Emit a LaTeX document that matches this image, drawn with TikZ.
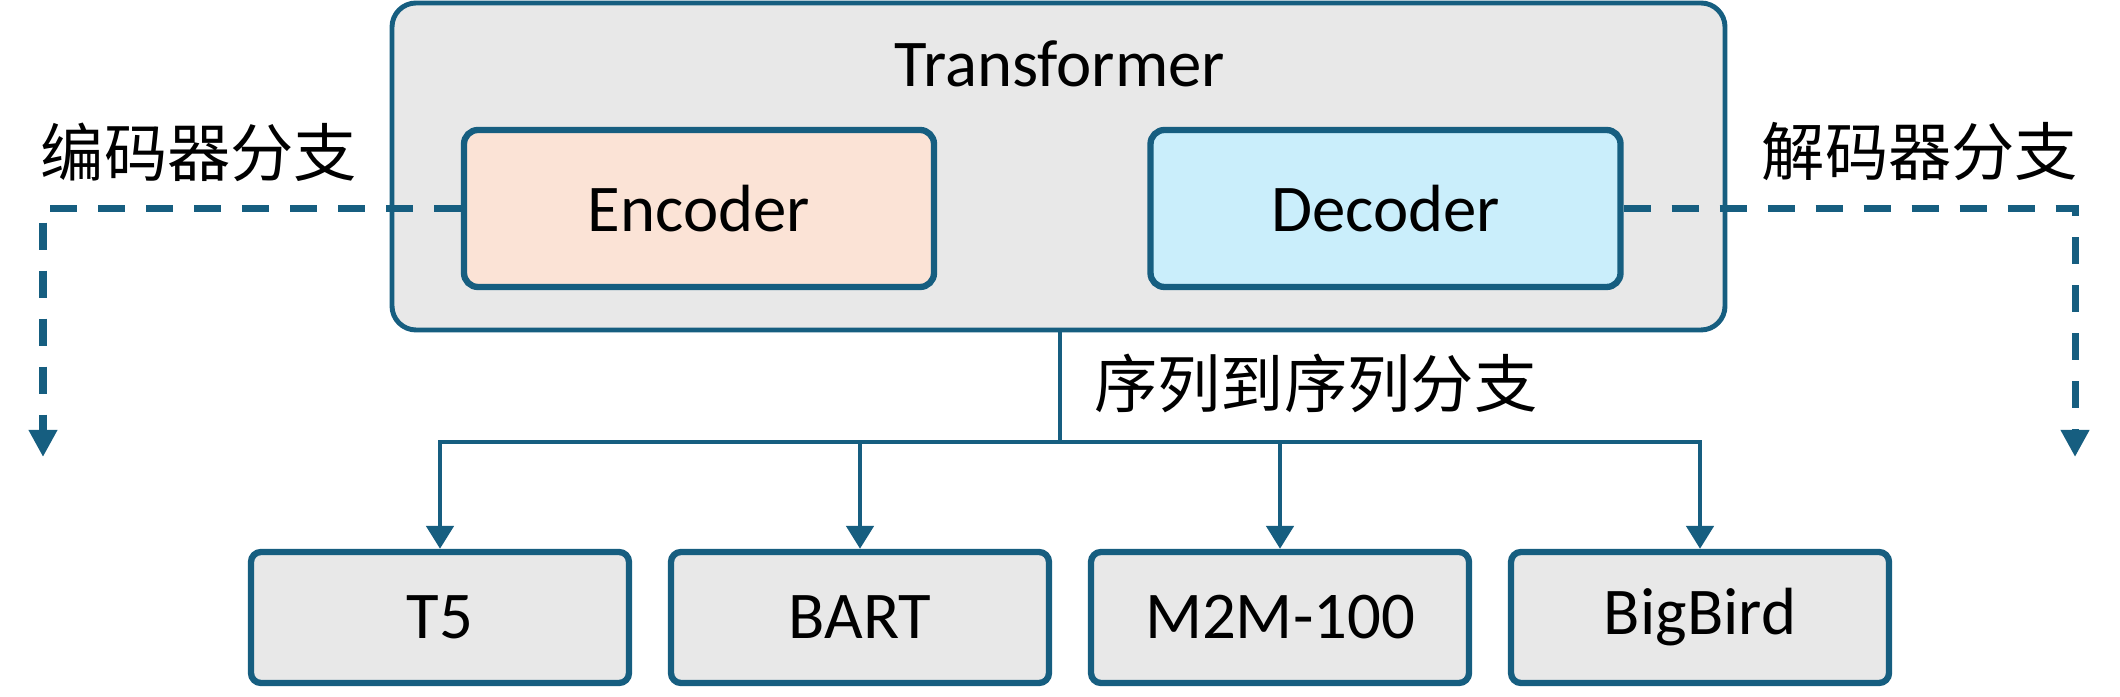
\documentclass[tikz,border=0pt]{standalone}
\usepackage{fontspec}
\setmainfont{Carlito}
\newfontfamily\cjk{Noto Sans CJK SC}
\usetikzlibrary{arrows.meta}
\definecolor{edge}{RGB}{22,94,128}
\definecolor{boxgray}{RGB}{232,232,232}
\definecolor{encfill}{RGB}{251,227,214}
\definecolor{decfill}{RGB}{202,238,251}
\tikzset{
  outer/.style  = { draw=edge, line width=1.4pt, fill=boxgray, rounded corners=0.24cm,
                    minimum width=13.33cm, minimum height=3.27cm },
  part/.style   = { draw=edge, line width=1.8pt, rounded corners=0.14cm,
                    minimum width=4.7cm, minimum height=1.57cm, font=\fontsize{19}{22}\selectfont },
  model/.style  = { draw=edge, line width=1.8pt, fill=boxgray, rounded corners=0.1cm,
                    minimum width=3.78cm, minimum height=1.31cm, font=\fontsize{19}{22}\selectfont },
  branch/.style = { draw=edge, line width=2pt, dash pattern=on 0.27cm off 0.21cm,
                    -{Triangle[width=0.27cm,length=0.27cm]} },
  seq/.style    = { draw=edge, line width=1.4pt },
  tag/.style    = { font=\cjk\fontsize{18}{22}\selectfont }
}

\begin{document}
\begin{tikzpicture}
\useasboundingbox (0,0) rectangle (21.2,6.96);
% transformer with its two parts
\node[outer] (transformer) at (10.585,5.295) {};
\node[font=\fontsize{19}{22}\selectfont] (title) at (10.6,6.32) {Transformer};
\node[part, fill=encfill] (encoder) at (6.99,4.875) {Encoder};
\node[part, fill=decfill] (decoder) at (13.855,4.875) {Decoder};
% branch labels
\node[tag] (enclabel) at (1.99,5.44) {编码器分支};
\node[tag] (declabel) at (19.2,5.44) {解码器分支};
\node[tag, anchor=west] (seqlabel) at (10.82,3.13) {序列到序列分支};
% dashed branches
\coordinate (encend) at (0.43,2.39);
\coordinate (decend) at (20.75,2.39);
\draw[branch] (encoder.west) -| (encend);
\draw[branch] (decoder.east) -| (decend);
% seq2seq models
\coordinate (split) at (10.6,2.54);
\draw[seq] (transformer.south -| split) -- (split);
\foreach \name/\txt/\x in {t5/T5/4.4, bart/BART/8.6, m2m/M2M-100/12.8, bigbird/BigBird/17.0} {
  \node[model] (\name) at (\x,0.785) {\txt};
  \draw[seq, -{Triangle[width=0.27cm,length=0.23cm]}] (split) -| (\name.north);
}
\end{tikzpicture}
\end{document}
